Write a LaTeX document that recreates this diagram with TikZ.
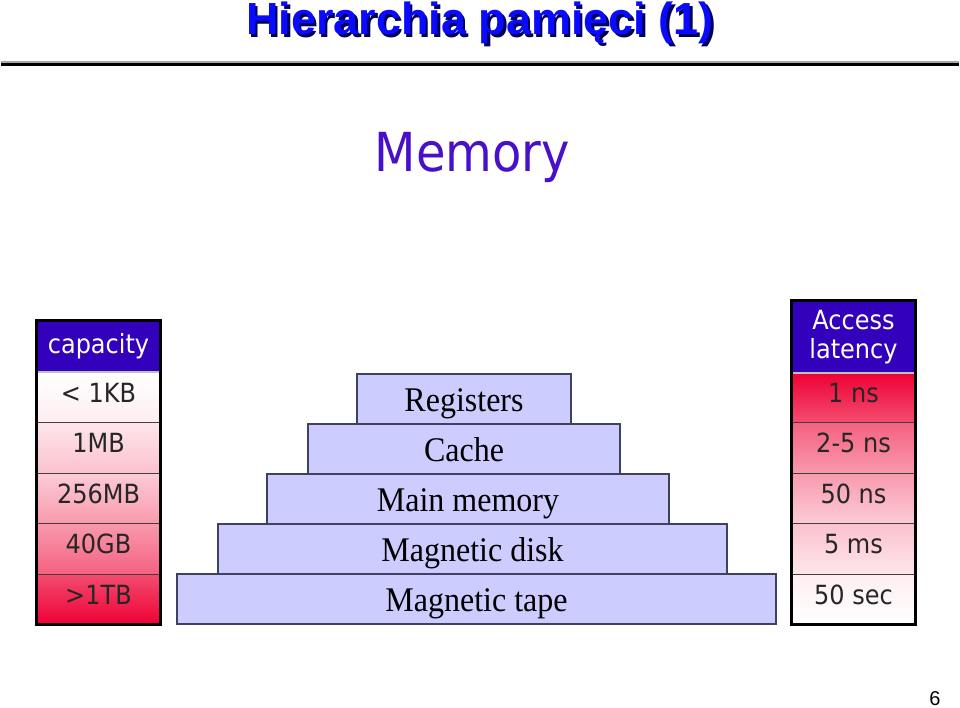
\documentclass[tikz,border=0pt]{standalone}
\usepackage{graphicx}
\usepackage{fontspec}
\setmainfont{Liberation Serif}
\newfontfamily\arialfont{Liberation Sans}
\newfontfamily\verdfont{DejaVu Sans}
\definecolor{hdrblue}{RGB}{51,0,187}
\definecolor{memviolet}{RGB}{72,16,200}
\definecolor{redbase}{RGB}{238,0,51}
\definecolor{pyrfill}{RGB}{204,204,255}
\definecolor{pyrline}{RGB}{64,64,96}
\definecolor{titleblue}{RGB}{10,10,255}
\definecolor{titleshadow}{RGB}{0,0,90}
\newcommand\vst[1]{\scalebox{1}[1.1]{#1}}
\newcommand\vsp[1]{\scalebox{1}[1.08]{#1}}
\newcommand\shadowed[1]{\makebox[0pt][l]{\hspace{2.5pt}\raisebox{-2.5pt}{\textcolor{titleshadow}{#1}}}\textcolor{titleblue}{#1}}
\begin{document}
\begin{tikzpicture}[x=1pt,y=-1pt,
  titletext/.style={font=\arialfont\bfseries\fontsize{45}{50}\selectfont, inner sep=0, anchor=base},
  cell/.style={rectangle, minimum width=124pt, minimum height=50.5pt, inner sep=0, outer sep=0,
    draw=black!75, line width=0.8pt, font=\verdfont\fontsize{24}{28}\selectfont, text=black!85,
    text height=20pt, text depth=10pt},
  hdrcell/.style={cell, fill=hdrblue, text=white, align=center},
  pyr/.style={rectangle, minimum height=50pt, inner sep=0, outer sep=0, fill=pyrfill, draw=pyrline,
    line width=1.2pt, font=\fontsize{32}{36}\selectfont, text height=30pt, text depth=6pt},
  border/.style={line width=3pt, draw=black}
]
\useasboundingbox (0,0) rectangle (960,708);
% title
\node[titletext] (title) at (480,35) {\shadowed{Hierarchia pamięci (1)}};
\coordinate (rulel) at (1,64.5);
\coordinate (ruler) at (959,64.5);
\draw[line width=2pt, black!35] ([yshift=2.5pt]rulel) -- ([yshift=2.5pt]ruler);
\draw[line width=3pt, black] (rulel) -- (ruler);
% Memory
\node[font=\verdfont\fontsize{48}{54}\selectfont, text=memviolet, anchor=base, inner sep=0] (mem) at (472.5,172) {\scalebox{1}[1.12]{Memory}};
% left table
\node[hdrcell, minimum height=52pt, text height=20pt, text depth=6pt] (lcap) at (98.5,346) {\vst{capacity}};
\node[cell, top color=white, bottom color=redbase!7] (l1) at (98.5,397.25) {\vst{< 1KB}};
\node[cell, top color=redbase!10, bottom color=redbase!24] (l2) at (98.5,447.75) {\vst{1MB}};
\node[cell, top color=redbase!20, bottom color=redbase!40] (l3) at (98.5,498.25) {\vst{256MB}};
\node[cell, top color=redbase!40, bottom color=redbase!62] (l4) at (98.5,548.75) {\vst{40GB}};
\node[cell, top color=redbase!70, bottom color=redbase] (l5) at (98.5,599.25) {\vst{>1TB}};
\draw[line width=1.2pt, black!25] (lcap.south west) -- (lcap.south east);
\draw[border] (lcap.north west) rectangle (l5.south east);
% right table
\node[hdrcell, minimum height=72pt, text height=, text depth=] (racc) at (853.5,337) {\vst{Access}\\[1pt]\vst{latency}};
\node[cell, top color=redbase, bottom color=redbase!70] (r1) at (853.5,397.25) {\vst{1 ns}};
\node[cell, top color=redbase!62, bottom color=redbase!40] (r2) at (853.5,447.75) {\vst{2-5 ns}};
\node[cell, top color=redbase!40, bottom color=redbase!20] (r3) at (853.5,498.25) {\vst{50 ns}};
\node[cell, top color=redbase!24, bottom color=redbase!10] (r4) at (853.5,548.75) {\vst{5 ms}};
\node[cell, top color=redbase!7, bottom color=white] (r5) at (853.5,599.25) {\vst{50 sec}};
\draw[line width=1.2pt, black!25] (racc.south west) -- (racc.south east);
\draw[border] (racc.north west) rectangle (r5.south east);
% pyramid
\node[pyr, minimum width=599pt] (p5) at (476.5,599) {\vsp{Magnetic tape}};
\node[pyr, minimum width=509pt] (p4) at (472.5,549) {\vsp{Magnetic disk}};
\node[pyr, minimum width=402pt] (p3) at (468,499) {\vsp{Main memory}};
\node[pyr, minimum width=312pt] (p2) at (464,449) {\vsp{Cache}};
\node[pyr, minimum width=214pt] (p1) at (464,399) {\vsp{Registers}};
% page number
\node[font=\arialfont\fontsize{20}{24}\selectfont, anchor=base, inner sep=0] (pnum) at (935,705.5) {6};
\end{tikzpicture}
\end{document}
